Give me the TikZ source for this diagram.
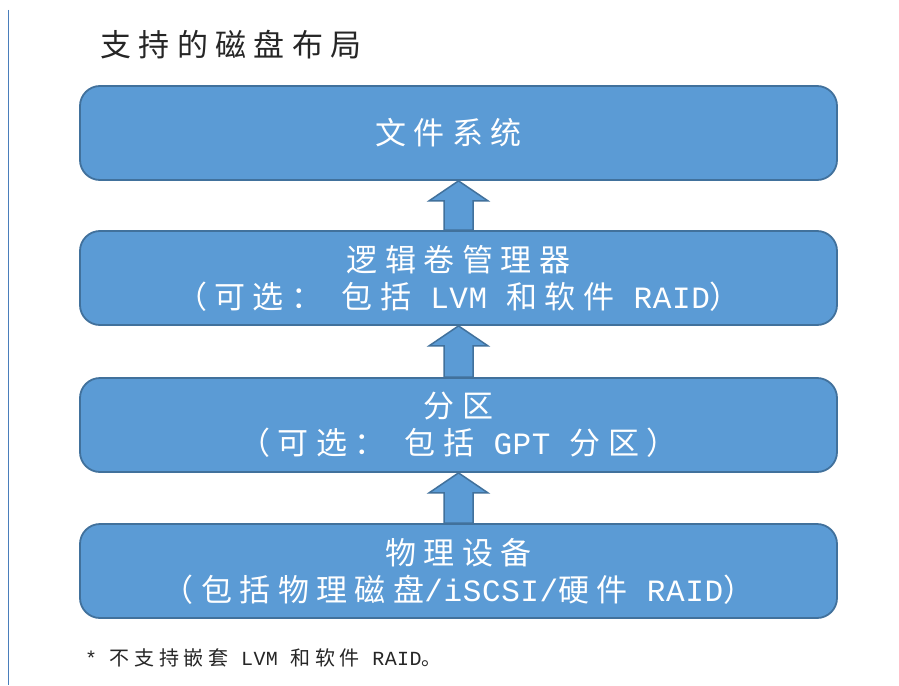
\documentclass[tikz,border=0pt]{standalone}
\usepackage{fontspec}
\setmainfont[LetterSpace=24]{Noto Sans CJK SC}
\newfontfamily\latmono[LetterSpace=2]{Liberation Mono}
\usetikzlibrary{calc}
\definecolor{boxfill}{HTML}{5B9BD5}
\definecolor{boxedge}{HTML}{41719C}
\definecolor{sideline}{HTML}{4A7EBB}
\definecolor{titletext}{HTML}{262626}
\newcommand\lt[1]{{\latmono #1}}
\newcommand\wgap{\kern0.62em\relax}
\newcommand\blockarr[2]{%
  \draw[blockarrow] ($(#2.north)+(-14.5,0)$) -- ($(#1.south)+(-14.5,20)$)
    -- ($(#1.south)+(-29.5,20)$) -- (#1.south) -- ($(#1.south)+(29.5,20)$)
    -- ($(#1.south)+(14.5,20)$) -- ($(#2.north)+(14.5,0)$) -- cycle;}
\begin{document}
\begin{tikzpicture}[x=1pt,y=-1pt,
  box/.style={draw=boxedge, line width=1.8pt, fill=boxfill, rounded corners=20pt,
    minimum width=757pt, minimum height=94pt, inner sep=0pt, align=center,
    text=white, font=\fontsize{31}{37}\selectfont},
  blockarrow/.style={draw=boxedge, line width=1.5pt, fill=boxfill, line join=miter},
  titletxt/.style={anchor=west, inner sep=0pt, text=titletext, font=\fontsize{31}{36}\selectfont},
  notetxt/.style={anchor=west, inner sep=0pt, text=titletext, font=\fontsize{20}{24}\selectfont}]
\useasboundingbox (0,0) rectangle (899,685);
\fill[white] (0,0) rectangle (899,685);
\draw[sideline, line width=1.5pt] (8.5,10) -- (8.5,685);
\node[titletxt] (title) at (100,45) {支持的磁盘布局};
\node[box] (fs) at (458.5,133) {文件系统\hspace*{20pt}};
\node[box] (lvm) at (458.5,278) {逻辑卷管理器\\（可选：\wgap 包括\wgap\lt{LVM}\wgap 和软件\wgap\lt{RAID}）};
\node[box] (part) at (458.5,425) {分区\\（可选：\wgap 包括\wgap\lt{GPT}\wgap 分区）};
\node[box] (dev) at (458.5,571) {物理设备\\（包括物理磁盘\lt{/iSCSI/}硬件\wgap\lt{RAID}）};
\blockarr{fs}{lvm}
\blockarr{lvm}{part}
\blockarr{part}{dev}
\node[notetxt] (note) at (85,658) {\lt{*}\wgap 不支持嵌套\wgap\lt{LVM}\wgap 和软件\wgap\lt{RAID}。};
\end{tikzpicture}
\end{document}
